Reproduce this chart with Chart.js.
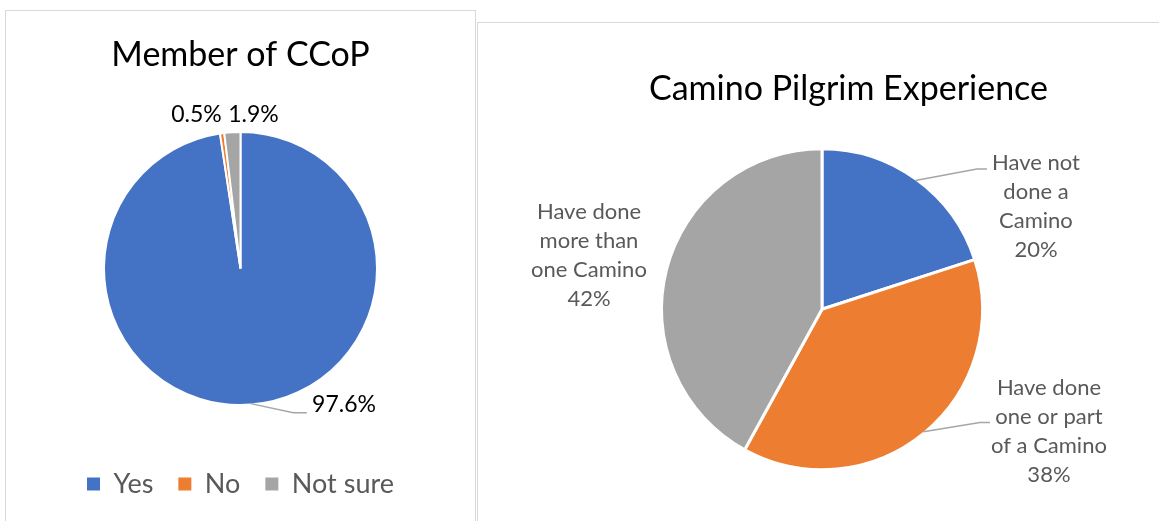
<!DOCTYPE html>
<html lang="en">
<head>
<meta charset="utf-8">
<title>Member of CCoP / Camino Pilgrim Experience</title>
<script src="https://cdn.jsdelivr.net/npm/chart.js@4.4.1/dist/chart.umd.min.js"></script>
<style>
    html, body { margin: 0; padding: 0; background: #fff; overflow: hidden; }
    body { width: 1159px; height: 521px; position: relative; }
    .painel { position: absolute; border: 1px solid #d9d9d9; box-sizing: border-box; }
    #painelMembro { left: 5px; top: 10px; width: 471px; height: 540px; }
    #painelCamino { left: 477px; top: 22px; width: 720px; height: 540px; }
    canvas { position: absolute; }
    #graficoMembro { left: 5px; top: 10px; }
    #graficoCamino { left: 477px; top: 22px; }
</style>
</head>
<body>
<div class="painel" id="painelMembro"></div>
<div class="painel" id="painelCamino"></div>
<canvas id="graficoMembro" width="470" height="511"></canvas>
<canvas id="graficoCamino" width="682" height="499"></canvas>
<script>
// dados
const membroCategorias = ['Yes', 'No', 'Not sure']
const membroValores = [97.6, 0.5, 1.9]

const caminoCategorias = [
    ['Have not', 'done a', 'Camino'],
    ['Have done', 'one or part', 'of a Camino'],
    ['Have done', 'more than', 'one Camino']
]
const caminoValores = [20, 38, 42]

const cores = ['#4472c4', '#ed7d31', '#a5a5a5'] // azul, laranja, cinza (padrão do Excel)

Chart.defaults.font.family = 'Lato'

// plugin simples para os rótulos de dados (o Chart.js não traz um)
const rotulosPizza = {
    id: 'rotulosPizza',
    afterDatasetsDraw(chart, args, opts) {
        const ctx = chart.ctx
        const meta = chart.getDatasetMeta(0)
        const valores = chart.data.datasets[0].data

        ctx.save()
        ctx.font = `${opts.tamanho}px Lato`
        ctx.textAlign = 'center'
        ctx.textBaseline = 'middle'

        meta.data.forEach((arco, i) => {
            const { x, y, startAngle, endAngle, outerRadius } = arco.getProps(['x', 'y', 'startAngle', 'endAngle', 'outerRadius'], true)
            const meio = (startAngle + endAngle) / 2
            const r = outerRadius - opts.borda / 2
            const bordaX = x + Math.cos(meio) * r
            const bordaY = y + Math.sin(meio) * r

            const [dx, dy] = opts.deslocamentos[i]
            const cx = bordaX + dx
            const cy = bordaY + dy

            let linhas = opts.comCategoria ? [].concat(chart.data.labels[i]) : []
            linhas = linhas.concat(valores[i].toFixed(opts.casas) + '%')

            ctx.fillStyle = opts.cor
            const topo = cy - (linhas.length - 1) * opts.entrelinha / 2
            linhas.forEach((texto, j) => ctx.fillText(texto, cx, topo + j * opts.entrelinha))

            // linha guia até o rótulo
            const guia = opts.guias[i]
            if (guia) {
                const [gx, gy, cotovelo] = guia
                ctx.strokeStyle = '#a6a6a6'
                ctx.lineWidth = 1.5
                ctx.beginPath()
                ctx.moveTo(bordaX, bordaY)
                ctx.lineTo(cx + gx - cotovelo, cy + gy)
                ctx.lineTo(cx + gx, cy + gy)
                ctx.stroke()
            }
        })
        ctx.restore()
    }
}

function desenharMembro() {
    const ctx = document.getElementById('graficoMembro').getContext('2d')
    const legendaPadrao = Chart.overrides.doughnut.plugins.legend.labels.generateLabels

    new Chart(ctx, {
        type: 'pie',
        data: {
            labels: membroCategorias,
            datasets: [{
                data: membroValores,
                backgroundColor: cores,
                borderColor: '#fff',
                borderWidth: 2,
                radius: 136.5
            }]
        },
        options: {
            responsive: false,
            animation: false,
            layout: { padding: { left: 1, right: 0, top: 0, bottom: 13.5 } },
            plugins: {
                tooltip: { enabled: false },
                title: {
                    display: true,
                    text: 'Member of CCoP',
                    color: '#000',
                    font: { size: 34, weight: 'normal' },
                    padding: { top: 24.6, bottom: 16.1 }
                },
                legend: {
                    position: 'bottom',
                    labels: {
                        color: '#595959',
                        font: { size: 27 },
                        boxWidth: 13,
                        boxHeight: 13,
                        padding: 25,
                        generateLabels: chart => legendaPadrao(chart).map(item => ({ ...item, lineWidth: 0 }))
                    }
                },
                rotulosPizza: {
                    tamanho: 23,
                    cor: '#000',
                    entrelinha: 28,
                    casas: 1,
                    borda: 2,
                    comCategoria: false,
                    deslocamentos: [[93.3, 1.4], [-25.8, -19.7], [21, -18.7]],
                    guias: [[-37.2, 7.7, 13.4], null, null]
                }
            }
        },
        plugins: [rotulosPizza]
    })
}

function desenharCamino() {
    const ctx = document.getElementById('graficoCamino').getContext('2d')

    new Chart(ctx, {
        type: 'pie',
        data: {
            labels: caminoCategorias,
            datasets: [{
                data: caminoValores,
                backgroundColor: cores,
                borderColor: '#fff',
                borderWidth: 3,
                radius: 160.5
            }]
        },
        options: {
            responsive: false,
            animation: false,
            layout: { padding: { left: 119, right: 111, top: 0, bottom: 12 } },
            plugins: {
                tooltip: { enabled: false },
                legend: { display: false },
                title: {
                    display: true,
                    text: 'Camino Pilgrim Experience',
                    align: 'end',
                    color: '#000',
                    font: { size: 34, weight: 'normal' },
                    padding: { top: 46.6, bottom: 0 }
                },
                rotulosPizza: {
                    tamanho: 22,
                    cor: '#595959',
                    entrelinha: 29,
                    casas: 0,
                    borda: 3,
                    comCategoria: true,
                    deslocamentos: [[120.5, 26], [125.6, -0.5], [-79, -14.5]],
                    guias: [[-49, -37.5, 10], [-59, -8.7, 10], null]
                }
            }
        },
        plugins: [rotulosPizza]
    })
}

document.fonts.load('20px Lato').then(() => {
    desenharMembro()
    desenharCamino()
})
</script>
</body>
</html>
